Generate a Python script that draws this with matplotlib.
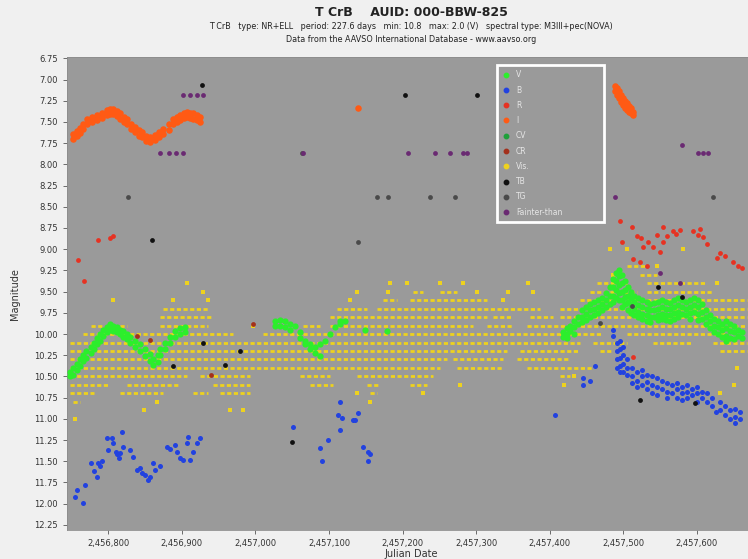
import matplotlib
matplotlib.use('Agg')
import matplotlib.pyplot as plt
from matplotlib.lines import Line2D
from matplotlib.ticker import FuncFormatter, MultipleLocator

# AAVSO light curve of T CrB
# (JD, [magnitudes]) per column of points

v_obs = [
    (2456748, [10.45, 10.5]), (2456752, [10.4, 10.48]), (2456757, [10.35, 10.42]),
    (2456762, [10.3, 10.38]), (2456766, [10.25, 10.32]), (2456770, [10.2, 10.28]),
    (2456776, [10.15, 10.22]), (2456780, [10.1, 10.18]), (2456785, [10.05, 10.12]),
    (2456789, [10.0, 10.08]), (2456793, [9.95, 10.02]), (2456799, [9.92, 9.98]),
    (2456803, [9.88, 9.95]), (2456807, [9.9, 9.96]), (2456812, [9.92, 9.98]),
    (2456816, [9.95, 10.0]), (2456820, [9.97, 10.03]), (2456826, [10.0, 10.06]),
    (2456830, [10.03, 10.1]), (2456837, [10.08, 10.15]), (2456843, [10.12, 10.2]),
    (2456850, [10.18, 10.26]), (2456857, [10.24, 10.32]), (2456861, [10.3, 10.36]),
    (2456867, [10.25, 10.33]), (2456871, [10.18, 10.25]), (2456877, [10.1, 10.18]),
    (2456884, [10.03, 10.1]), (2456891, [9.97, 10.04]), (2456898, [9.93, 10.0]),
    (2456905, [9.92, 9.98]),
    (2457027, [9.85, 9.9]), (2457034, [9.83, 9.9]), (2457040, [9.85, 9.92]),
    (2457047, [9.88, 9.95]), (2457054, [9.9]), (2457061, [9.98, 10.05]),
    (2457068, [10.08, 10.12]), (2457074, [10.12, 10.18]), (2457081, [10.15, 10.22]),
    (2457088, [10.12, 10.26]), (2457095, [10.08]), (2457102, [10.0]),
    (2457108, [9.92]), (2457115, [9.85, 9.88]), (2457122, [9.85]),
    (2457149, [9.95]), (2457179, [9.96]),
    (2457418, [9.98, 10.03]), (2457424, [9.93, 10.0, 10.05]), (2457428, [9.9, 9.97]),
    (2457433, [9.85, 9.92, 10.0]), (2457439, [9.8, 9.88]), (2457444, [9.72, 9.8, 9.86]),
    (2457449, [9.68, 9.76, 9.84]), (2457455, [9.65, 9.72, 9.8]), (2457460, [9.62, 9.7, 9.78]),
    (2457466, [9.6, 9.68, 9.75]), (2457471, [9.58, 9.65, 9.72]), (2457476, [9.52, 9.6, 9.68]),
    (2457482, [9.45, 9.55, 9.65]), (2457486, [9.35, 9.45, 9.55, 9.62]),
    (2457490, [9.28, 9.38, 9.48, 9.58]), (2457494, [9.25, 9.32, 9.42, 9.52, 9.6]),
    (2457498, [9.3, 9.4, 9.5, 9.6, 9.68]), (2457502, [9.38, 9.48, 9.56, 9.65]),
    (2457507, [9.45, 9.55, 9.62, 9.72]), (2457511, [9.5, 9.58, 9.66, 9.75]),
    (2457515, [9.55, 9.62, 9.7, 9.78]), (2457520, [9.58, 9.66, 9.74, 9.8]),
    (2457526, [9.6, 9.68, 9.76, 9.82]), (2457532, [9.62, 9.7, 9.78, 9.85]),
    (2457536, [9.65, 9.72, 9.8, 9.86]), (2457542, [9.64, 9.72, 9.8]),
    (2457547, [9.62, 9.7, 9.78, 9.84]), (2457553, [9.6, 9.68, 9.76, 9.82]),
    (2457558, [9.62, 9.7, 9.77, 9.83]), (2457564, [9.63, 9.7, 9.78, 9.85]),
    (2457569, [9.6, 9.68, 9.75, 9.82]), (2457574, [9.58, 9.66, 9.74, 9.8]),
    (2457580, [9.6, 9.68, 9.76]), (2457585, [9.62, 9.7, 9.78]),
    (2457591, [9.6, 9.68, 9.75, 9.82]), (2457596, [9.58, 9.66, 9.74]),
    (2457602, [9.6, 9.68, 9.76, 9.84]), (2457607, [9.65, 9.74, 9.82]),
    (2457613, [9.72, 9.8, 9.88]), (2457618, [9.78, 9.85, 9.93]),
    (2457623, [9.82, 9.9, 9.98]), (2457629, [9.85, 9.92, 10.0]),
    (2457634, [9.88, 9.95, 10.03]), (2457640, [9.85, 9.93, 10.02, 10.08]),
    (2457645, [9.88, 9.96, 10.05]), (2457650, [9.9, 9.98, 10.06]),
    (2457656, [9.95, 10.02]), (2457661, [9.98, 10.05]),
]

b_obs = [
    (2456755, [11.92]), (2456758, [11.84]), (2456766, [11.99]), (2456769, [11.78]),
    (2456776, [11.52]), (2456780, [11.62]), (2456785, [11.68]), (2456786, [11.52]),
    (2456789, [11.55]), (2456792, [11.5]), (2456799, [11.22]), (2456800, [11.37]),
    (2456805, [11.22]), (2456807, [11.28]), (2456810, [11.39]), (2456812, [11.42]),
    (2456814, [11.46]), (2456816, [11.4]), (2456819, [11.16]), (2456820, [11.33]),
    (2456830, [11.37]), (2456833, [11.45]), (2456839, [11.6]), (2456843, [11.58]),
    (2456846, [11.64]), (2456850, [11.66]), (2456854, [11.72]), (2456857, [11.68]),
    (2456861, [11.52]), (2456864, [11.6]), (2456871, [11.56]), (2456880, [11.33]),
    (2456884, [11.35]), (2456891, [11.31]), (2456894, [11.39]), (2456898, [11.46]),
    (2456902, [11.48]), (2456907, [11.28]), (2456909, [11.21]), (2456911, [11.48]),
    (2456915, [11.39]), (2456921, [11.28]), (2456925, [11.22]), (2457051, [11.1]),
    (2457088, [11.34]), (2457091, [11.5]), (2457098, [11.25]), (2457112, [10.95]),
    (2457115, [10.8, 11.13]), (2457118, [10.99]), (2457132, [11.01]), (2457136, [11.01]),
    (2457140, [10.93]), (2457146, [11.33]), (2457153, [11.39, 11.5]), (2457156, [11.42]),
    (2457407, [10.96]),
    (2457445, [10.52, 10.6]), (2457455, [10.55]), (2457462, [10.38]),
    (2457486, [9.95, 10.02]), (2457492, [10.1, 10.2, 10.3, 10.4]),
    (2457496, [10.08, 10.18, 10.28, 10.38, 10.45]), (2457500, [10.15, 10.25, 10.35, 10.45]),
    (2457505, [10.3, 10.4, 10.48]), (2457512, [10.4, 10.5, 10.58]),
    (2457519, [10.45, 10.55, 10.62]), (2457526, [10.42, 10.5, 10.6]),
    (2457532, [10.48, 10.56, 10.65]), (2457539, [10.5, 10.6, 10.7]),
    (2457546, [10.52, 10.62, 10.72]), (2457553, [10.55, 10.65]),
    (2457560, [10.58, 10.68, 10.75]), (2457566, [10.6, 10.7]),
    (2457573, [10.58, 10.65, 10.75]), (2457580, [10.62, 10.7, 10.78]),
    (2457587, [10.6, 10.68, 10.76]), (2457593, [10.65, 10.72]),
    (2457600, [10.62, 10.7, 10.8]), (2457607, [10.68, 10.76]),
    (2457614, [10.7, 10.8]), (2457621, [10.75, 10.85]), (2457626, [10.92]),
    (2457632, [10.8, 10.9]), (2457638, [10.85, 10.95]), (2457645, [10.9, 11.0]),
    (2457652, [10.88, 10.98, 11.05]), (2457659, [10.92, 11.0]),
]

r_obs = [
    (2456759, [9.13]), (2456767, [9.38]), (2456786, [8.89]), (2456803, [8.87]),
    (2456807, [8.85]),
    (2457496, [8.67]), (2457498, [8.92]), (2457512, [8.74]), (2457513, [9.12, 10.27]),
    (2457519, [8.85]), (2457523, [9.15]), (2457524, [8.87]), (2457527, [8.98]),
    (2457532, [9.2]), (2457534, [8.91]), (2457540, [8.97]), (2457546, [8.83]),
    (2457550, [9.03]), (2457554, [8.74, 8.92]), (2457560, [8.85]), (2457568, [8.79]),
    (2457572, [8.82]), (2457577, [8.77]), (2457595, [8.79]), (2457602, [8.83]),
    (2457604, [8.76]), (2457608, [8.86]), (2457614, [8.94]), (2457627, [9.1]),
    (2457632, [9.04]), (2457638, [9.08]), (2457649, [9.15]), (2457656, [9.2]),
    (2457661, [9.22]),
]

i_obs = [
    (2456752, [7.64, 7.7]), (2456757, [7.61, 7.67]), (2456762, [7.57, 7.63]),
    (2456766, [7.52, 7.58]), (2456771, [7.47, 7.53]), (2456778, [7.44, 7.5]),
    (2456785, [7.42, 7.48]), (2456792, [7.39, 7.45]), (2456799, [7.36, 7.42]),
    (2456803, [7.35, 7.41]), (2456807, [7.35, 7.41]), (2456812, [7.37, 7.43]),
    (2456816, [7.4, 7.46]), (2456822, [7.44, 7.5]), (2456826, [7.47, 7.53]),
    (2456831, [7.52, 7.58]), (2456837, [7.56, 7.62]), (2456842, [7.6, 7.66]),
    (2456846, [7.62, 7.68]), (2456852, [7.66, 7.72]), (2456857, [7.68, 7.74]),
    (2456864, [7.65, 7.71]), (2456869, [7.62, 7.68]), (2456875, [7.58, 7.64]),
    (2456882, [7.53, 7.59]), (2456888, [7.47, 7.53]), (2456894, [7.44, 7.5]),
    (2456898, [7.42, 7.48]), (2456903, [7.39, 7.45]), (2456907, [7.38, 7.44]),
    (2456911, [7.39, 7.45]), (2456915, [7.4, 7.46]), (2456921, [7.42, 7.48]),
    (2456925, [7.44, 7.5]),
    (2457140, [7.33]),
    (2457489, [7.08, 7.14]), (2457492, [7.1, 7.18]), (2457494, [7.14, 7.22]),
    (2457497, [7.18, 7.26]), (2457500, [7.22, 7.3]), (2457502, [7.25, 7.33]),
    (2457505, [7.28, 7.36]), (2457508, [7.31, 7.38]), (2457511, [7.34, 7.4]),
    (2457513, [7.38, 7.42]),
]

cr_obs = [(2456839, [10.02]), (2456857, [10.07]), (2456939, [10.48]), (2456997, [9.88])]

tb_obs = [
    (2456860, [8.89]), (2456888, [10.38]), (2456928, [7.07]), (2456929, [10.1]),
    (2456959, [10.37]), (2456979, [10.2]), (2457050, [11.27]), (2457203, [7.18]),
    (2457301, [7.18]), (2457523, [10.78]), (2457547, [9.45]), (2457580, [9.56]),
    (2457598, [10.81]),
]

tg_obs = [
    (2456827, [8.38]), (2457064, [7.87]), (2457140, [8.91]), (2457165, [8.38]),
    (2457180, [8.38]), (2457237, [8.38]), (2457271, [8.38]), (2457468, [9.87]),
    (2457512, [9.67]), (2457622, [8.38]),
]

fainter_obs = [
    (2456871, [7.87]), (2456882, [7.87]), (2456892, [7.87]), (2456902, [7.87, 7.18]),
    (2456911, [7.18]), (2456921, [7.18]), (2456929, [7.18]), (2457065, [7.87]),
    (2457208, [7.87]), (2457244, [7.87]), (2457265, [7.87]), (2457282, [7.87]),
    (2457288, [7.87]), (2457489, [8.38]), (2457550, [9.28]), (2457577, [9.4]),
    (2457580, [7.77]), (2457602, [7.87]), (2457608, [7.87]), (2457615, [7.87]),
]

# visual estimates: runs of observations along the 0.1 mag steps
vis_mag = [10.0, 10.0, 10.0,
           10.1, 10.1, 10.1, 10.1,
           10.2, 10.2, 10.2, 10.2,
           10.3, 10.3, 10.3,
           10.4, 10.4, 10.4,
           10.5, 10.5, 10.5, 10.5, 10.5,
           10.6, 10.6, 10.6, 10.6, 10.6, 10.6,
           10.7, 10.7, 10.7, 10.7, 10.7,
           10.8,
           9.9, 9.9, 9.9, 9.9, 9.9, 9.9, 9.9,
           9.8, 9.8, 9.8, 9.8, 9.8,
           9.7, 9.7, 9.7, 9.7,
           9.6, 9.6, 9.6,
           9.5, 9.5, 9.5, 9.5,
           9.4, 9.4, 9.3, 9.2]
vis_start = [2456766, 2457011, 2457505,
             2456748, 2457459, 2457540, 2457622,
             2456748, 2457360, 2457468, 2457632,
             2456748, 2457269, 2457356,
             2456748, 2457274, 2457369,
             2456748, 2456925, 2457061, 2457138, 2457414,
             2456748, 2456826, 2456943, 2457074, 2457152, 2457210,
             2456748, 2456816, 2456915, 2456952, 2457156,
             2456752,
             2456776, 2456816, 2456871, 2457065, 2457102, 2457315, 2457369,
             2456871, 2457102, 2457323, 2457373, 2457414,
             2456875, 2457111, 2457165, 2457414,
             2457174, 2457210, 2457441,
             2457214, 2457251, 2457455, 2457532,
             2457464, 2457532, 2457523, 2457505]
vis_end = [2456970, 2457473, 2457641,
           2457441, 2457505, 2457595, 2457668,
           2457342, 2457441, 2457486, 2457668,
           2457261, 2457337, 2457428,
           2457251, 2457337, 2457459,
           2456907, 2456993, 2457102, 2457242, 2457428,
           2456803, 2456898, 2456993, 2457106, 2457170, 2457233,
           2456780, 2456875, 2456935, 2456993, 2457165,
           2456762,
           2456793, 2456826, 2456935, 2457088, 2457296, 2457350, 2457668,
           2456943, 2457315, 2457350, 2457405, 2457668,
           2456935, 2457152, 2457387, 2457668,
           2457193, 2457315, 2457668,
           2457228, 2457274, 2457519, 2457622,
           2457505, 2457614, 2457546, 2457532]

vis_pt_jd = [2456755, 2456848, 2456966, 2456983, 2456866, 2457156, 2457138, 2457228,
             2457278, 2456807, 2456888, 2456935, 2457129, 2457337, 2456929, 2457138,
             2457180, 2457301, 2457343, 2457377, 2456907, 2457183, 2457206, 2457251,
             2457282, 2457371, 2457627, 2457486, 2457546, 2457482, 2457505, 2457581,
             2456997, 2457420, 2457433, 2457632, 2457650, 2457655]
vis_pt_mag = [11.0, 10.9, 10.9, 10.9, 10.8, 10.8, 10.7, 10.7,
              10.6, 9.6, 9.6, 9.6, 9.6, 9.6, 9.5, 9.5,
              9.5, 9.5, 9.5, 9.5, 9.4, 9.4, 9.4, 9.4,
              9.4, 9.4, 9.4, 9.3, 9.2, 9.0, 9.0, 9.0,
              9.9, 10.6, 10.5, 10.7, 10.6, 10.4]

band_names = ['V', 'B', 'R', 'I', 'CV', 'CR', 'Vis.', 'TB', 'TG', 'Fainter-than']
band_colors = ['#2cee2c', '#2242e0', '#e63222', '#ff5a14', '#1fa03a', '#a3301c',
               '#eed21e', '#111111', '#4a4a4a', '#6a2a72']

x_ticks = [2456800, 2456900, 2457000, 2457100, 2457200, 2457300, 2457400, 2457500, 2457600]


def flatten(obs):
    jd, mag = [], []
    for t, ms in obs:
        for m in ms:
            jd.append(t)
            mag.append(m)
    return jd, mag


col = dict(zip(band_names, band_colors))

fig = plt.figure(figsize=(7.48, 5.59), dpi=100, facecolor='#f0f0f0')
ax = fig.add_axes([0.0896, 0.0519, 0.9198, 0.8453])
ax.set_facecolor('#9a9a9a')

# visual runs first, everything else on top
ax.hlines(vis_mag, vis_start, vis_end, colors=col['Vis.'], linewidth=2.0,
          linestyles=(0, (1.5, 0.9)), zorder=2)
ax.scatter(vis_pt_jd, vis_pt_mag, s=8, marker='s', color=col['Vis.'], linewidths=0, zorder=2)

for obs, name, size in [(v_obs, 'V', 20), (b_obs, 'B', 13), (r_obs, 'R', 12),
                        (i_obs, 'I', 22), (cr_obs, 'CR', 12), (tb_obs, 'TB', 12),
                        (tg_obs, 'TG', 12), (fainter_obs, 'Fainter-than', 12)]:
    jd, mag = flatten(obs)
    ax.scatter(jd, mag, s=size, color=col[name], linewidths=0, zorder=3)

ax.set_xlim(2456744, 2457679)
ax.set_ylim(12.31, 6.74)
ax.set_xticks(x_ticks)
ax.xaxis.set_major_formatter(FuncFormatter(lambda x, p: f'{x:,.0f}'))
ax.yaxis.set_major_locator(MultipleLocator(0.25))
ax.yaxis.set_major_formatter(FuncFormatter(lambda y, p: f'{y:.2f}'))
ax.tick_params(labelsize=6, colors='#555555', labelcolor='#333333', length=3, width=0.6)
for sp in ax.spines.values():
    sp.set_color('#8c8c8c')
    sp.set_linewidth(0.6)

ax.set_xlabel('Julian Date', fontsize=7, color='#333333', labelpad=0.5)
ax.set_ylabel('Magnitude', fontsize=7, color='#333333', labelpad=10)

fig.text(0.5495, 0.977, 'T CrB    AUID: 000-BBW-825', ha='center', va='center',
         fontsize=9, fontweight='bold', color='#222222')
fig.text(0.5495, 0.952, 'T CrB   type: NR+ELL   period: 227.6 days   min: 10.8   max: 2.0 (V)'
         '   spectral type: M3III+pec(NOVA)', ha='center', va='center', fontsize=5.8, color='#222222')
fig.text(0.5495, 0.930, 'Data from the AAVSO International Database - www.aavso.org',
         ha='center', va='center', fontsize=5.8, color='#222222')

handles = [Line2D([], [], marker='o', ls='', color=c, markersize=3.2) for c in band_colors]
leg = ax.legend(handles, band_names, loc='upper left', bbox_to_anchor=(0.625, 0.4, 0.1555, 0.584),
                mode='expand', fontsize=5.5, labelcolor='#e6e6e6', frameon=True, fancybox=False,
                facecolor='#9a9a9a', edgecolor='white', framealpha=1, labelspacing=0.82,
                handlelength=1.0, handletextpad=0.8, borderpad=0.7, borderaxespad=0)
leg.get_frame().set_linewidth(2)
leg.set_zorder(5)

fig.savefig('out.png', dpi=100, facecolor=fig.get_facecolor())
